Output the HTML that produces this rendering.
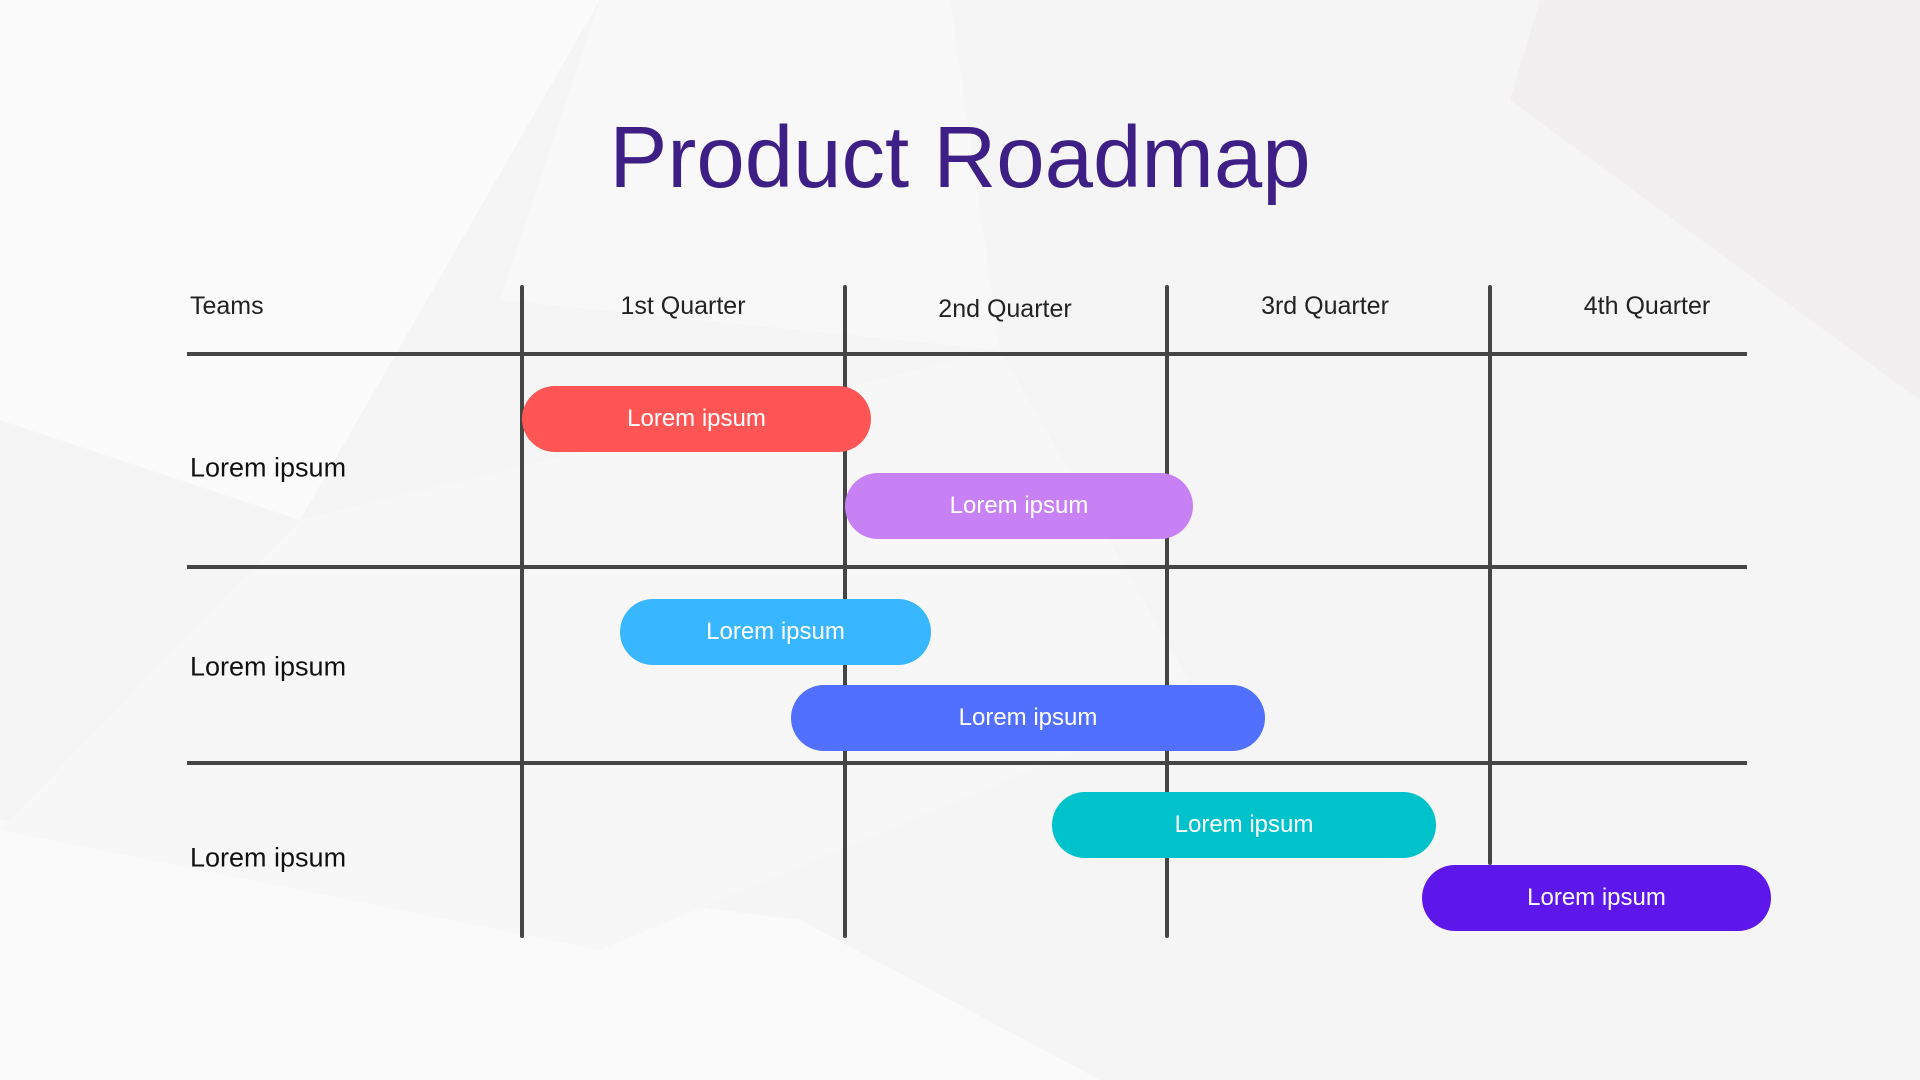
<!DOCTYPE html>
<html><head><meta charset="utf-8"><style>
html,body{margin:0;padding:0}
body{width:1920px;height:1080px;position:relative;overflow:hidden;background:#f6f5f5;font-family:"Liberation Sans",sans-serif}
.bg{position:absolute;left:0;top:0}
.t{position:absolute;white-space:nowrap}
.h{position:absolute;left:187px;width:1560px;height:4px;background:#454545}
.v{position:absolute;top:285px;width:4px;height:653px;background:#454545;border-radius:2px}
.bar{position:absolute;height:66px;border-radius:33px;color:#fff;font-size:24px;line-height:66px;text-align:center}
.q{position:absolute;top:292px;font-size:25px;color:#222;transform:translateX(-50%)}
.r{position:absolute;left:190px;font-size:27px;color:#111;transform:translateY(-50%)}
</style></head><body>
<svg class="bg" width="1920" height="1080">
<polygon points="0,0 600,0 300,520 0,420" fill="#fbfbfb"/>
<polygon points="600,0 950,0 1000,350 500,300" fill="#f9f8f8"/>
<polygon points="1540,0 1920,0 1920,400 1510,100" fill="#f1efef"/>
<polygon points="0,820 800,920 1100,1080 0,1080" fill="#fbfafa"/>
<polygon points="300,520 1000,350 1200,700 600,950 0,830" fill="#f8f7f7"/>
</svg>
<div class="t" style="left:0;width:1920px;top:108px;text-align:center;font-size:87px;color:#3d1f86">Product Roadmap</div>
<div class="t" style="left:190px;top:292px;font-size:25px;color:#222">Teams</div>
<div class="q" style="left:683px">1st Quarter</div>
<div class="q" style="left:1005px;top:295px">2nd Quarter</div>
<div class="q" style="left:1325px">3rd Quarter</div>
<div class="q" style="left:1647px">4th Quarter</div>
<div class="h" style="top:352px"></div>
<div class="h" style="top:565px"></div>
<div class="h" style="top:761px"></div>
<div class="v" style="left:520px"></div>
<div class="v" style="left:843px"></div>
<div class="v" style="left:1165px"></div>
<div class="v" style="left:1488px;height:580px"></div>
<div class="r" style="top:468px">Lorem ipsum</div>
<div class="r" style="top:667px">Lorem ipsum</div>
<div class="r" style="top:858px">Lorem ipsum</div>
<div class="bar" style="left:522px;top:386px;width:349px;background:#ff5555">Lorem ipsum</div>
<div class="bar" style="left:845px;top:473px;width:348px;background:#c880f5">Lorem ipsum</div>
<div class="bar" style="left:620px;top:599px;width:311px;background:#38b6ff">Lorem ipsum</div>
<div class="bar" style="left:791px;top:685px;width:474px;background:#5170ff">Lorem ipsum</div>
<div class="bar" style="left:1052px;top:792px;width:384px;background:#00c2cb">Lorem ipsum</div>
<div class="bar" style="left:1422px;top:865px;width:349px;background:#5e17eb">Lorem ipsum</div>
</body></html>
